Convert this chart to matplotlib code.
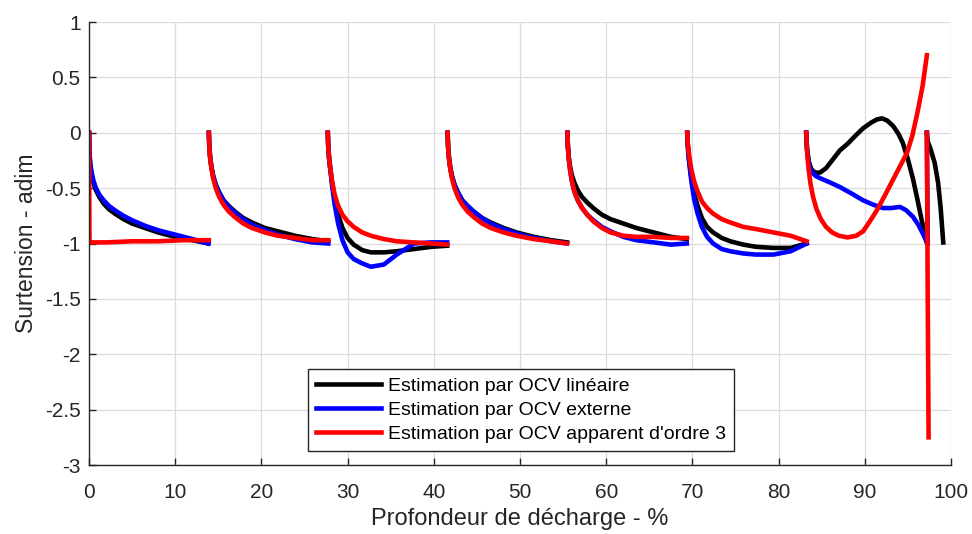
import numpy as np
import matplotlib
matplotlib.use("Agg")
import matplotlib.pyplot as plt

# start of each discharge step (%) and x offsets of the read points inside a step
seg_starts = [0, 13.9, 27.7, 41.6, 55.5, 69.4]
decay_dx = [0, 0.05, 0.15, 0.3, 0.5, 0.8, 1.2, 1.7, 2.3, 3, 4, 5, 6.5, 8, 10, 12, 13.85]

# Estimation par OCV linéaire
lin_decay = [
    [0, -0.2, -0.3, -0.38, -0.45, -0.52, -0.58, -0.64, -0.69, -0.73, -0.78, -0.82, -0.86, -0.9, -0.94, -0.97, -1.0],
    [0, -0.12, -0.22, -0.31, -0.39, -0.47, -0.54, -0.61, -0.66, -0.71, -0.77, -0.81, -0.86, -0.89, -0.93, -0.96, -0.98],
    [0, -0.12, -0.23, -0.33, -0.45, -0.6, -0.74, -0.86, -0.95, -1.01, -1.06, -1.08, -1.08, -1.07, -1.05, -1.03, -1.02],
    [0, -0.12, -0.22, -0.31, -0.39, -0.47, -0.54, -0.61, -0.66, -0.71, -0.77, -0.81, -0.86, -0.9, -0.94, -0.97, -0.99],
    [0, -0.12, -0.22, -0.3, -0.38, -0.45, -0.52, -0.58, -0.63, -0.68, -0.74, -0.78, -0.82, -0.86, -0.9, -0.94, -0.96],
    [0, -0.1, -0.2, -0.3, -0.42, -0.55, -0.66, -0.77, -0.85, -0.9, -0.95, -0.98, -1.01, -1.03, -1.04, -1.04, -1.0],
]
lin_tail_x = [[83.2, 83.3, 83.5, 83.8, 84.2, 84.8, 85.5, 86.3, 87.1, 88.0, 89.0, 89.8, 90.7, 91.4, 92.0,
               92.6, 93.3, 93.9, 94.4, 95.0, 95.6, 96.1, 96.6, 97.2],
              [97.2, 97.3, 97.6, 98.1, 98.5, 98.8, 99.1]]
lin_tail_y = [[0, -0.15, -0.26, -0.33, -0.36, -0.36, -0.32, -0.24, -0.16, -0.1, -0.02, 0.04, 0.09, 0.12, 0.13,
               0.11, 0.06, -0.01, -0.09, -0.24, -0.42, -0.6, -0.79, -0.99],
              [0, -0.08, -0.14, -0.27, -0.45, -0.68, -0.99]]

# Estimation par OCV externe
ext_decay = [
    [0, -0.18, -0.28, -0.36, -0.43, -0.5, -0.56, -0.61, -0.66, -0.7, -0.75, -0.79, -0.84, -0.88, -0.92, -0.96, -1.0],
    [0, -0.12, -0.22, -0.31, -0.39, -0.47, -0.54, -0.61, -0.67, -0.72, -0.78, -0.83, -0.88, -0.92, -0.96, -0.99, -1.0],
    [0, -0.12, -0.23, -0.34, -0.48, -0.65, -0.82, -0.97, -1.08, -1.14, -1.18, -1.21, -1.19, -1.1, -1.0, -0.99, -0.99],
    [0, -0.12, -0.22, -0.31, -0.39, -0.47, -0.54, -0.61, -0.66, -0.71, -0.77, -0.82, -0.87, -0.91, -0.95, -0.98, -1.0],
    [0, -0.12, -0.23, -0.33, -0.43, -0.53, -0.61, -0.68, -0.74, -0.79, -0.85, -0.89, -0.94, -0.97, -0.99, -1.01, -1.0],
    [0, -0.1, -0.21, -0.32, -0.45, -0.6, -0.73, -0.85, -0.94, -1.0, -1.05, -1.07, -1.09, -1.1, -1.1, -1.07, -1.0],
]
ext_tail_x = [[83.2, 83.3, 83.45, 83.6, 83.9, 84.3, 84.8, 86.0, 87.1, 88.5, 89.8, 91.0, 92.1, 93.0, 94.1,
               94.8, 95.6, 96.2, 96.8, 97.2],
              [97.2, 97.25, 97.3]]
ext_tail_y = [[0, -0.15, -0.25, -0.31, -0.36, -0.39, -0.41, -0.45, -0.49, -0.55, -0.61, -0.65, -0.68, -0.68, -0.67,
               -0.7, -0.76, -0.83, -0.92, -0.99],
              [0, -0.5, -1.0]]

# Estimation par OCV apparent d'ordre 3
app_first_x = [0, 0.05, 2, 5, 8, 11, 13.9]
app_first_y = [0, -0.99, -0.99, -0.98, -0.98, -0.97, -0.97]
app_decay = [
    None,
    [0, -0.12, -0.23, -0.32, -0.41, -0.5, -0.58, -0.65, -0.71, -0.76, -0.82, -0.86, -0.9, -0.93, -0.95, -0.97, -0.97],
    [0, -0.12, -0.23, -0.33, -0.44, -0.56, -0.66, -0.74, -0.8, -0.85, -0.9, -0.93, -0.96, -0.98, -0.99, -1.0, -1.01],
    [0, -0.12, -0.23, -0.32, -0.41, -0.5, -0.58, -0.65, -0.71, -0.76, -0.82, -0.86, -0.9, -0.93, -0.96, -0.98, -1.0],
    [0, -0.12, -0.23, -0.33, -0.43, -0.53, -0.61, -0.68, -0.74, -0.8, -0.86, -0.9, -0.93, -0.94, -0.94, -0.95, -0.95],
    [0, -0.08, -0.16, -0.25, -0.34, -0.44, -0.53, -0.62, -0.68, -0.73, -0.78, -0.81, -0.85, -0.87, -0.9, -0.93, -0.98],
]
app_tail_x = [[83.2, 83.25, 83.35, 83.5, 83.7, 84.0, 84.4, 84.9, 85.5, 86.2, 87.0, 88.0, 89.0, 89.8, 90.5,
               91.4, 92.3, 93.3, 94.1, 94.9, 95.5, 96.1, 96.7, 97.2],
              [97.2, 97.3, 97.4]]
app_tail_y = [[0, -0.1, -0.22, -0.34, -0.46, -0.58, -0.69, -0.78, -0.85, -0.9, -0.93, -0.945, -0.93, -0.89, -0.81,
               -0.7, -0.57, -0.42, -0.3, -0.18, -0.03, 0.18, 0.42, 0.70],
              [0, -1.5, -2.75]]

labels = ["Estimation par OCV linéaire",
          "Estimation par OCV externe",
          "Estimation par OCV apparent d'ordre 3"]
colors = ['black', 'blue', 'red']


def join_segments(decay, tail_x, tail_y, first=None):
    xs, ys = [], []
    if first is not None:
        xs += list(first[0]) + [np.nan]
        ys += list(first[1]) + [np.nan]
    for start, yy in zip(seg_starts, decay):
        if yy is None:
            continue
        xs += [start + d for d in decay_dx] + [np.nan]
        ys += list(yy) + [np.nan]
    for tx, ty in zip(tail_x, tail_y):
        xs += list(tx) + [np.nan]
        ys += list(ty) + [np.nan]
    return xs, ys


series = [
    join_segments(lin_decay, lin_tail_x, lin_tail_y),
    join_segments(ext_decay, ext_tail_x, ext_tail_y),
    join_segments(app_decay, app_tail_x, app_tail_y, first=(app_first_x, app_first_y)),
]

plt.rcParams['font.family'] = ['Liberation Sans', 'DejaVu Sans']
plt.rcParams['axes.unicode_minus'] = False

fig = plt.figure(figsize=(9.72, 5.34), dpi=100)
ax = fig.add_axes([0.0916, 0.1292, 0.8868, 0.8296])

for (xs, ys), c, lab in zip(series, colors, labels):
    ax.plot(xs, ys, color=c, lw=3.3, label=lab, solid_joinstyle='round')

ax.set_xlim(0, 100)
ax.set_ylim(-3, 1)
ax.set_xticks(np.arange(0, 101, 10))
ax.set_yticks(np.arange(-3, 1.01, 0.5))
ax.set_yticklabels(['-3', '-2.5', '-2', '-1.5', '-1', '-0.5', '0', '0.5', '1'])
ax.grid(True, color='#dcdcdc', lw=0.9)
ax.set_axisbelow(True)
for s in ['top', 'right']:
    ax.spines[s].set_visible(False)
for s in ['left', 'bottom']:
    ax.spines[s].set_color('#262626')
    ax.spines[s].set_linewidth(1.0)
ax.tick_params(direction='in', length=5, width=1, colors='#262626', labelsize=15)
ax.tick_params(axis='y', pad=6)
ax.tick_params(axis='x', pad=13)

ax.set_xlabel("Profondeur de décharge - %", fontsize=17, color='#262626', labelpad=4)
ax.set_ylabel("Surtension - adim", fontsize=16.5, color='#262626', labelpad=5)

leg = ax.legend(loc='lower left', bbox_to_anchor=(0.243, 0.01), fontsize=14,
                handlelength=3.3, handletextpad=0.4, labelspacing=0.32,
                borderpad=0.42, fancybox=False, framealpha=1, edgecolor='#262626')
leg.get_frame().set_linewidth(1.0)

fig.savefig("out.png", dpi=100)
